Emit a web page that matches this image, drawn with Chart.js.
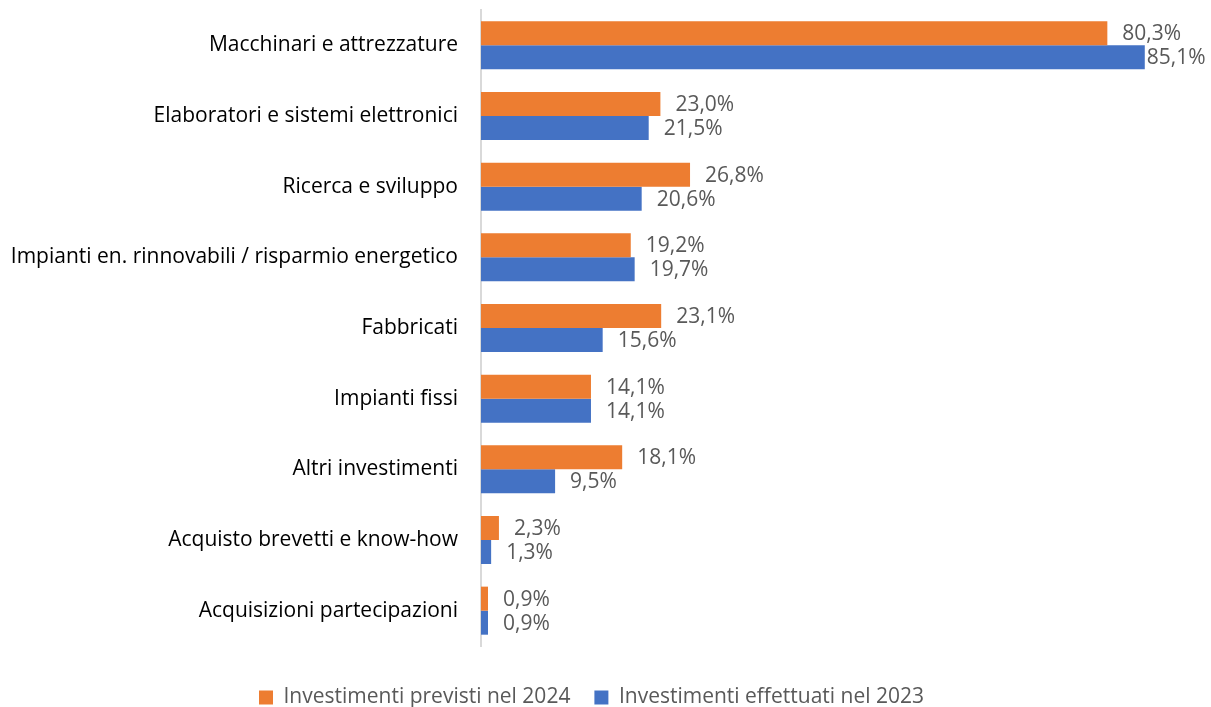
<!DOCTYPE html>
<html>
<head>
<meta charset="utf-8">
<script src="https://cdn.jsdelivr.net/npm/chart.js@4/dist/chart.umd.min.js"></script>
<style>
  html, body { margin: 0; padding: 0; background: #fff; }
  #wrap { width: 1211px; height: 707px; position: relative; }
</style>
</head>
<body>
<div id="wrap"><canvas id="chart"></canvas></div>
<script>
// categories and values (percent)
var categories = [
    'Macchinari e attrezzature',
    'Elaboratori e sistemi elettronici',
    'Ricerca e sviluppo',
    'Impianti en. rinnovabili / risparmio energetico',
    'Fabbricati',
    'Impianti fissi',
    'Altri investimenti',
    'Acquisto brevetti e know-how',
    'Acquisizioni partecipazioni'
];
var previsti2024 = [80.3, 23.0, 26.8, 19.2, 23.1, 14.1, 18.1, 2.3, 0.9];
var effettuati2023 = [85.1, 21.5, 20.6, 19.7, 15.6, 14.1, 9.5, 1.3, 0.9];
var seriesNames = ['Investimenti previsti nel 2024', 'Investimenti effettuati nel 2023'];

var FONT = '"Open Sans", "Liberation Sans", sans-serif';

function fmt(v) {
    return v.toFixed(1).replace('.', ',') + '%';
}

// draws the value next to the end of each bar (pulled in if it would leave the canvas)
var valueLabels = {
    id: 'valueLabels',
    afterDatasetsDraw: function(chart) {
        var ctx = chart.ctx;
        ctx.save();
        ctx.font = '21px ' + FONT;
        ctx.fillStyle = '#595959';
        ctx.textAlign = 'left';
        ctx.textBaseline = 'middle';
        chart.data.datasets.forEach(function(ds, i) {
            var meta = chart.getDatasetMeta(i);
            meta.data.forEach(function(bar, j) {
                var txt = fmt(ds.data[j]);
                var x = bar.x + 15;
                var w = ctx.measureText(txt).width;
                if (x + w > chart.width - 6) {
                    x = Math.max(bar.x + 2, chart.width - 6 - w);
                }
                ctx.fillText(txt, x, bar.y + 1);
            });
        });
        ctx.restore();
    }
};

new Chart(document.getElementById('chart'), {
    type: 'bar',
    data: {
        labels: categories,
        datasets: [
            { label: seriesNames[0], data: previsti2024, backgroundColor: '#ED7D31' },
            { label: seriesNames[1], data: effettuati2023, backgroundColor: '#4472C4' }
        ]
    },
    options: {
        indexAxis: 'y',
        responsive: true,
        maintainAspectRatio: false,
        animation: false,
        datasets: {
            bar: { categoryPercentage: 0.68, barPercentage: 1.0 }
        },
        layout: { padding: { top: 10, right: 28, left: 0, bottom: -11 } },
        scales: {
            x: {
                display: true,
                min: 0,
                max: 90,
                grid: { display: false },
                border: { display: false },
                ticks: { display: false },
                afterFit: function(scale) { scale.height = 17; }
            },
            y: {
                grid: { display: false, drawTicks: false },
                border: { display: true, color: '#d9d9d9', width: 2 },
                ticks: {
                    color: '#000',
                    padding: 23,
                    font: { family: FONT, size: 21 }
                },
                afterFit: function(scale) {
                    scale.width = 481;
                    scale.paddingTop = 0;
                    scale.paddingBottom = 0;
                }
            }
        },
        plugins: {
            legend: {
                position: 'bottom',
                labels: {
                    color: '#595959',
                    font: { family: FONT, size: 21 },
                    boxWidth: 14,
                    boxHeight: 14,
                    padding: 24
                }
            },
            tooltip: { enabled: false }
        }
    },
    plugins: [valueLabels]
});
</script>
</body>
</html>
